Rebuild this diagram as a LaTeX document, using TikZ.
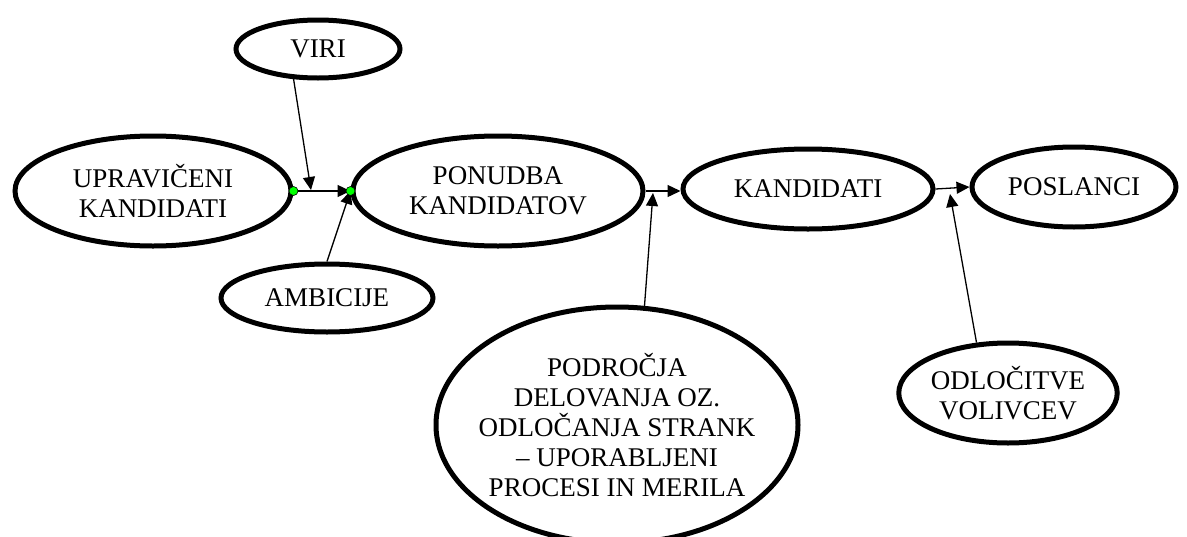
\documentclass[tikz,border=0pt]{standalone}
\usepackage{fontspec}
\setmainfont{Liberation Serif}
\usetikzlibrary{shapes.geometric}
\usetikzlibrary{arrows.meta}

\begin{document}
\begin{tikzpicture}[
		x=1pt, y=-1pt,
		stagenode/.style={
		% The shape:
		ellipse,
		inner sep=0pt,
		% The border:
		line width=5pt,
		draw=black,
		% The filling:
		fill=white,
		% Font
		font=\fontsize{27}{30}\selectfont,
		align=center
		},
		flowarrow/.style={
		line width=1.3pt,
		-{Triangle[length=13pt,width=12pt]}
		},
		greendot/.style={
		circle,
		minimum size=9pt,
		inner sep=0pt,
		draw=black,
		line width=0.6pt,
		fill=green
		}
	]
	\useasboundingbox (0,0) rectangle (1187,536);
	\clip (0,0) rectangle (1187,536);

	\node (UPR)[stagenode, minimum width=276pt, minimum height=110pt] at (153,191) {UPRAVIČENI\\KANDIDATI};
	\node (VIRI)[stagenode, minimum width=164pt, minimum height=58pt] at (318,49) {VIRI};
	\node (PON)[stagenode, minimum width=290pt, minimum height=110pt] at (498,191) {PONUDBA\\KANDIDATOV};
	\node (AMB)[stagenode, minimum width=212pt, minimum height=68pt] at (327,298) {AMBICIJE};
	\node (KAND)[stagenode, minimum width=250pt, minimum height=80pt] at (808,189) {KANDIDATI};
	\node (POSL)[stagenode, minimum width=204pt, minimum height=80pt] at (1074,187) {POSLANCI};
	\node (PODR)[stagenode, minimum width=362pt, minimum height=236pt, inner xsep=-20pt] at (617,425) {PODROČJA\\DELOVANJA OZ.\\ODLOČANJA STRANK\\– UPORABLJENI\\PROCESI IN MERILA};
	\node (ODL)[stagenode, minimum width=218pt, minimum height=100pt] at (1008,393) {ODLOČITVE\\VOLIVCEV};

	\coordinate (viriend) at (311,190);
	\coordinate (podrend) at (653,193);
	\coordinate (odlend) at (950,194);

  	\draw [flowarrow] (UPR.east) -- (PON.west);
  	\draw [flowarrow] (VIRI.231) -- (viriend);
  	\draw [flowarrow] (AMB.north) -- (PON.west);
  	\draw [flowarrow] (PON.east) -- (PON.east -| KAND.west);
  	\draw [flowarrow] (PODR.77) -- (podrend);
  	\draw [flowarrow] (KAND.east) -- (POSL.west);
  	\draw [flowarrow] (ODL.122) -- (odlend);

	\node (dotU)[greendot] at (UPR.east) {};
	\node (dotP)[greendot] at (PON.west) {};
\end{tikzpicture}
\end{document}
